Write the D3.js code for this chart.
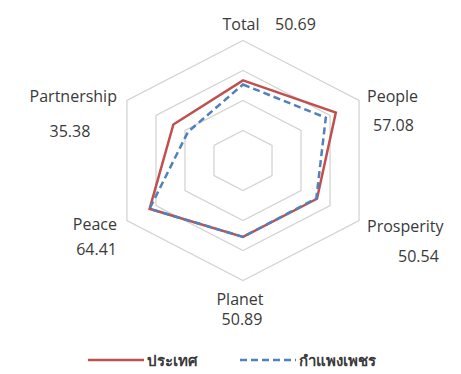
<!DOCTYPE html>
<html>
<head>
<meta charset="utf-8">
<script src="https://cdn.jsdelivr.net/npm/d3@7/dist/d3.min.js"></script>
<style>
  html, body { margin: 0; padding: 0; background: #fff; }
  svg { display: block; }
  text { font-family: "Open Sans", "Noto Sans", sans-serif; fill: #3a3a3a; }
</style>
</head>
<body>
<svg id="chart" width="461" height="374"></svg>
<script>
// ---- data ----
const axes = ["Total", "People", "Prosperity", "Planet", "Peace", "Partnership"];
const countryValues = [53.4, 64.0, 51.0, 50.9, 64.4, 48.0];      // ประเทศ
const provinceValues = [50.69, 57.08, 50.54, 50.89, 64.41, 38.0]; // กำแพงเพชร
const valueLabels = ["50.69", "57.08", "50.54", "50.89", "64.41", "35.38"];
const gridLevels = [20, 40, 60, 80];
const seriesNames = ["ประเทศ", "กำแพงเพชร"];

// ---- layout ----
const svg = d3.select("#chart");
const cx = 243, cy = 160.5;
const rx = d3.scaleLinear().domain([0, 80]).range([0, 134]);
const ry = d3.scaleLinear().domain([0, 80]).range([0, 120]);
const angle = d3.scalePoint().domain(axes).range([0, 360 - 60]);

function pt(axis, v) {
  const a = angle(axis) * Math.PI / 180;
  return [cx + rx(v) * Math.sin(a), cy - ry(v) * Math.cos(a)];
}

// grid hexagons
svg.append("g").selectAll("path").data(gridLevels).join("path")
  .attr("d", lv => d3.line()(axes.map(ax => pt(ax, lv))) + "Z")
  .attr("fill", "none")
  .attr("stroke", "#d4d4d4")
  .attr("stroke-width", 1.3);

// series
const series = [
  { name: seriesNames[0], values: countryValues, color: "#c0504d", dash: null },
  { name: seriesNames[1], values: provinceValues, color: "#4f81bd", dash: "7,4" }
];
svg.append("g").selectAll("path").data(series).join("path")
  .attr("d", s => d3.line()(axes.map((ax, i) => pt(ax, s.values[i]))) + "Z")
  .attr("fill", "none")
  .attr("stroke", s => s.color)
  .attr("stroke-width", 2.5)
  .attr("stroke-linejoin", "miter")
  .attr("stroke-dasharray", s => s.dash);

// axis labels (offsets relative to outer vertex)
const labelLayout = {
  "Total":       { name: [-2, -10.5, "middle"], value: [32, -10.5, "start"] },
  "People":      { name: [8, 1.5, "start"],   value: [14, 30.5, "start"] },
  "Prosperity":  { name: [8, 11.5, "start"],  value: [39, 41.5, "start"] },
  "Planet":      { name: [-3, 24.5, "middle"], value: [-1, 44.5, "middle"] },
  "Peace":       { name: [-10, 9.5, "end"],   value: [-10, 34.5, "end"] },
  "Partnership": { name: [-10, 1.5, "end"],   value: [-57, 36.5, "middle"] }
};
const lab = svg.append("g").attr("font-size", 16);
axes.forEach((ax, i) => {
  const [x, y] = pt(ax, 80);
  const L = labelLayout[ax];
  lab.append("text").attr("x", x + L.name[0]).attr("y", y + L.name[1])
    .attr("text-anchor", L.name[2]).text(ax);
  lab.append("text").attr("x", x + L.value[0]).attr("y", y + L.value[1])
    .attr("text-anchor", L.value[2]).text(valueLabels[i]);
});

// legend
const legend = svg.append("g").attr("transform", "translate(88,360)");
const legX = d3.scaleOrdinal().domain(seriesNames).range([0, 152]);
const items = legend.selectAll("g").data(series).join("g")
  .attr("transform", s => `translate(${legX(s.name)},0)`);
items.append("line").attr("x1", 0).attr("x2", 56).attr("y1", 0).attr("y2", 0)
  .attr("stroke", s => s.color).attr("stroke-width", 2.5)
  .attr("stroke-dasharray", s => s.dash);
items.append("text").attr("x", 59).attr("y", 6)
  .attr("font-size", 15).attr("font-weight", "bold").attr("fill", "#404040")
  .text(s => s.name);
</script>
</body>
</html>
